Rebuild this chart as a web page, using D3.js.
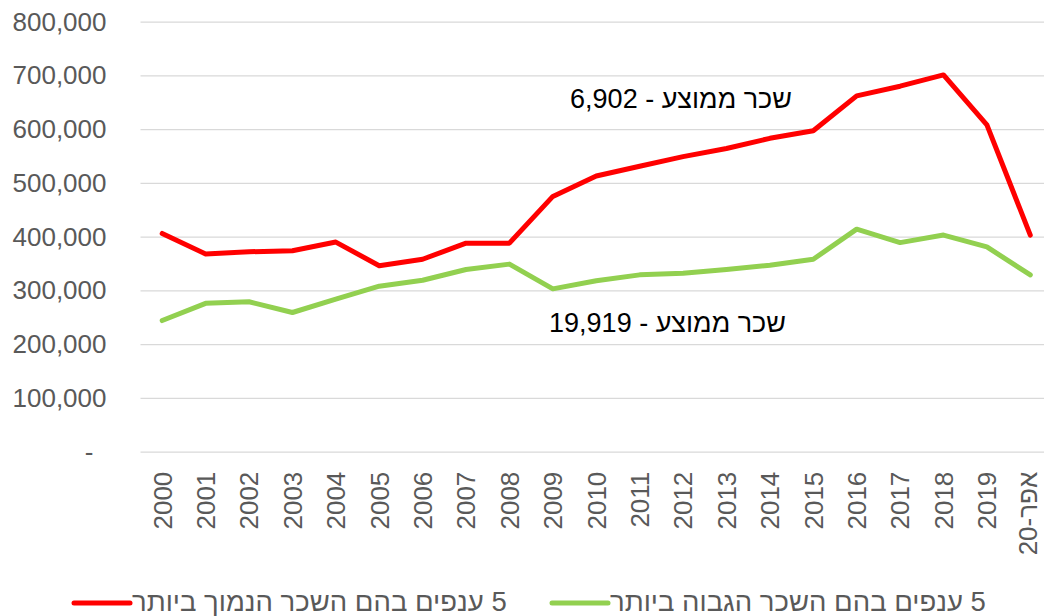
<!DOCTYPE html>
<html>
<head>
<meta charset="utf-8">
<script src="https://cdn.jsdelivr.net/npm/d3@7"></script>
<style>
  body { margin: 0; background: #fff; }
  svg { display: block; }
</style>
</head>
<body>
<script>
// categories on the x axis
var categories = ["2000","2001","2002","2003","2004","2005","2006","2007","2008","2009",
    "2010","2011","2012","2013","2014","2015","2016","2017","2018","2019","אפר-20"];

// 5 branches with the lowest wage
var lowValues = [406000, 368000, 372000, 374000, 390000, 346000, 358000, 388000, 388000, 475000,
    513000, 531000, 549000, 564000, 583000, 597000, 662000, 680000, 701000, 608000, 403000];

// 5 branches with the highest wage
var highValues = [244000, 276000, 279000, 259000, 284000, 308000, 319000, 339000, 349000, 303000,
    318000, 329000, 332000, 339000, 347000, 358000, 414000, 389000, 403000, 381000, 329000];

var yTicks = [0, 100000, 200000, 300000, 400000, 500000, 600000, 700000, 800000];

var seriesNames = ["5 ענפים בהם השכר הנמוך ביותר", "5 ענפים בהם השכר הגבוה ביותר"];
var annotations = ["שכר ממוצע - 6,902", "שכר ממוצע - 19,919"];

const width = 1044,
      height = 616;

const red = "#ff0000",
      green = "#92d050",
      axisGrey = "#595959",
      gridGrey = "#d9d9d9";

const left = 140.5,
      right = 1052;

var svg = d3.select("body")
    .append("svg")
    .attr("width", width)
    .attr("height", height)
    .style("font-family", "'Liberation Sans', Arial, sans-serif");

var x = d3.scaleBand()
    .domain(categories)
    .range([left, right])
    .padding(0);

var y = d3.scaleLinear()
    .domain([0, 800000])
    .range([451.7, 21.7]);

var cx = function (d) { return x(d) + x.bandwidth() / 2; };

// y axis with grid lines
var yAxis = svg.append("g")
    .attr("transform", "translate(" + left + ",0)")
    .call(d3.axisLeft(y)
        .tickValues(yTicks)
        .tickSize(-(width - left))
        .tickPadding(34)
        .tickFormat(function (d) { return d === 0 ? "-" : d3.format(",")(d); }));

yAxis.select(".domain").remove();
yAxis.selectAll(".tick line")
    .attr("stroke", gridGrey)
    .attr("stroke-width", 1.3);
yAxis.selectAll(".tick text")
    .attr("fill", axisGrey)
    .attr("font-size", "26px")
    .attr("font-family", "'Liberation Sans', Arial, sans-serif")
    .attr("dx", function (d) { return d === 0 ? -13 : 0; });

// x axis, rotated labels
var xAxis = svg.append("g")
    .attr("transform", "translate(0," + y(0) + ")")
    .call(d3.axisBottom(x).tickSize(0));

xAxis.select(".domain").remove();
xAxis.selectAll(".tick text")
    .attr("fill", axisGrey)
    .attr("font-size", "26px")
    .attr("font-family", "'Liberation Sans', Arial, sans-serif")
    .attr("transform", "rotate(-90)")
    .attr("text-anchor", "end")
    .attr("x", -20)
    .attr("y", function (d, i) { return i === categories.length - 1 ? -3 : 0; })
    .attr("dy", "0.36em");

// lines
var line = d3.line()
    .x(function (d, i) { return cx(categories[i]); })
    .y(function (d) { return y(d); });

var series = [
    { name: seriesNames[0], values: lowValues, color: red },
    { name: seriesNames[1], values: highValues, color: green }
];

series.forEach(function (s) {
    svg.append("path")
        .datum(s.values)
        .attr("d", line)
        .attr("fill", "none")
        .attr("stroke", s.color)
        .attr("stroke-width", 5)
        .attr("stroke-linejoin", "round")
        .attr("stroke-linecap", "round");
});

// average wage notes
svg.append("text")
    .text(annotations[0])
    .attr("x", 792)
    .attr("y", 108)
    .attr("font-size", "27px")
    .attr("fill", "#000")
    .attr("text-anchor", "end");

svg.append("text")
    .text(annotations[1])
    .attr("x", 786)
    .attr("y", 332)
    .attr("font-size", "27px")
    .attr("fill", "#000")
    .attr("text-anchor", "end");

// legend
var legendX = [74, 552];

series.forEach(function (s, i) {
    var g = svg.append("g")
        .attr("transform", "translate(" + legendX[i] + ",603)");

    g.append("line")
        .attr("x1", 0)
        .attr("x2", 56)
        .attr("y1", 0)
        .attr("y2", 0)
        .attr("stroke", s.color)
        .attr("stroke-width", 5)
        .attr("stroke-linecap", "round");

    g.append("text")
        .text(s.name)
        .attr("x", 58)
        .attr("y", 7.5)
        .attr("direction", "rtl")
        .attr("text-anchor", "end")
        .attr("font-size", "27.5px")
        .attr("fill", axisGrey);
});
</script>
</body>
</html>
